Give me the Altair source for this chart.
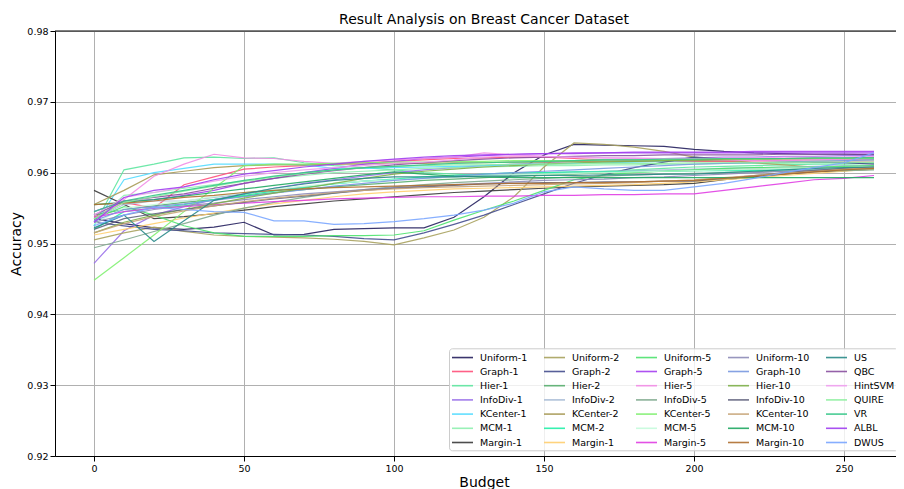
import altair as alt
import pandas as pd

budgets = [0, 10, 20, 30, 40, 50, 60, 70, 80, 90, 100, 110, 120, 130,
           140, 150, 160, 170, 180, 190, 200, 210, 220, 230, 240, 250, 260]

# series in the order they were plotted (legend column-major order)
names = ["Uniform-1", "Graph-1", "Hier-1", "InfoDiv-1", "KCenter-1", "MCM-1", "Margin-1",
         "Uniform-2", "Graph-2", "Hier-2", "InfoDiv-2", "KCenter-2", "MCM-2", "Margin-2",
         "Uniform-5", "Graph-5", "Hier-5", "InfoDiv-5", "KCenter-5", "MCM-5", "Margin-5",
         "Uniform-10", "Graph-10", "Hier-10", "InfoDiv-10", "KCenter-10", "MCM-10", "Margin-10",
         "US", "QBC", "HintSVM", "QUIRE", "VR", "ALBL", "DWUS"]

colors = ["#25205e", "#ff4f7b", "#5ee6a0", "#9a70ea", "#52dcff", "#8ff0b0", "#3a3a3a",
          "#a8a25e", "#454e8e", "#58ae6e", "#a8bcd6", "#a89a55", "#22f0a8", "#ffcf70",
          "#4de36e", "#a63ff0", "#f28de6", "#7faa8e", "#80f070", "#c6fbdc", "#e03ee3",
          "#8d8bb8", "#7a98e0", "#7eb04a", "#62647e", "#c8a478", "#20a862", "#b07030",
          "#2a8a88", "#8a50a0", "#f0a0f0", "#8ff0a0", "#36c888", "#a03ff0", "#7aa6ff"]

chart_title = "Result Analysis on Breast Cancer Dataset"

uniform_1 = [0.9535, 0.9528, 0.9522, 0.9520, 0.9523, 0.9530, 0.9512, 0.9513, 0.9520, 0.9521, 0.9522, 0.9522, 0.9537, 0.9566, 0.9600, 0.9625, 0.9640, 0.9639, 0.9638, 0.9637, 0.9633, 0.9630, 0.9628, 0.9627, 0.9626, 0.9626, 0.9625]
graph_1 = [0.9537, 0.9558, 0.9550, 0.9583, 0.9594, 0.9605, 0.9608, 0.9610, 0.9612, 0.9614, 0.9616, 0.9618, 0.9620, 0.9621, 0.9622, 0.9622, 0.9620, 0.9618, 0.9617, 0.9616, 0.9616, 0.9616, 0.9615, 0.9615, 0.9615, 0.9615, 0.9615]
hier_1 = [0.9525, 0.9604, 0.9612, 0.9621, 0.9622, 0.9620, 0.9621, 0.9614, 0.9610, 0.9607, 0.9604, 0.9600, 0.9598, 0.9596, 0.9597, 0.9599, 0.9600, 0.9602, 0.9604, 0.9606, 0.9608, 0.9609, 0.9610, 0.9611, 0.9612, 0.9612, 0.9613]
infodiv_1 = [0.9472, 0.9518, 0.9540, 0.9552, 0.9562, 0.9570, 0.9578, 0.9585, 0.9590, 0.9595, 0.9600, 0.9604, 0.9607, 0.9610, 0.9612, 0.9614, 0.9616, 0.9618, 0.9619, 0.9620, 0.9621, 0.9622, 0.9622, 0.9623, 0.9623, 0.9624, 0.9624]
kcenter_1 = [0.9525, 0.9590, 0.9600, 0.9606, 0.9612, 0.9612, 0.9612, 0.9611, 0.9606, 0.9606, 0.9607, 0.9608, 0.9609, 0.9610, 0.9611, 0.9612, 0.9613, 0.9614, 0.9615, 0.9616, 0.9617, 0.9618, 0.9619, 0.9620, 0.9620, 0.9621, 0.9622]
mcm_1 = [0.9530, 0.9568, 0.9572, 0.9578, 0.9583, 0.9588, 0.9592, 0.9596, 0.9600, 0.9602, 0.9604, 0.9606, 0.9607, 0.9608, 0.9609, 0.9610, 0.9610, 0.9611, 0.9611, 0.9612, 0.9612, 0.9613, 0.9613, 0.9613, 0.9614, 0.9614, 0.9614]
margin_1 = [0.9575, 0.9555, 0.9535, 0.9538, 0.9542, 0.9547, 0.9552, 0.9556, 0.9560, 0.9563, 0.9566, 0.9569, 0.9572, 0.9574, 0.9576, 0.9578, 0.9580, 0.9581, 0.9582, 0.9583, 0.9585, 0.9590, 0.9594, 0.9598, 0.9601, 0.9603, 0.9605]
uniform_2 = [0.9505, 0.9515, 0.9523, 0.9517, 0.9512, 0.9510, 0.9509, 0.9508, 0.9506, 0.9503, 0.9498, 0.9508, 0.9519, 0.9537, 0.9566, 0.9608, 0.9642, 0.9640, 0.9636, 0.9630, 0.9622, 0.9618, 0.9614, 0.9611, 0.9608, 0.9606, 0.9605]
graph_2 = [0.9530, 0.9525, 0.9520, 0.9518, 0.9515, 0.9514, 0.9513, 0.9512, 0.9510, 0.9507, 0.9505, 0.9515, 0.9527, 0.9540, 0.9555, 0.9570, 0.9585, 0.9597, 0.9607, 0.9615, 0.9622, 0.9620, 0.9618, 0.9617, 0.9615, 0.9614, 0.9612]
hier_2 = [0.9540, 0.9548, 0.9553, 0.9558, 0.9562, 0.9567, 0.9572, 0.9576, 0.9580, 0.9583, 0.9586, 0.9589, 0.9591, 0.9593, 0.9595, 0.9597, 0.9598, 0.9600, 0.9601, 0.9602, 0.9603, 0.9604, 0.9605, 0.9606, 0.9606, 0.9607, 0.9607]
infodiv_2 = [0.9535, 0.9555, 0.9560, 0.9560, 0.9565, 0.9570, 0.9575, 0.9580, 0.9585, 0.9588, 0.9590, 0.9592, 0.9594, 0.9596, 0.9598, 0.9600, 0.9601, 0.9602, 0.9603, 0.9604, 0.9605, 0.9606, 0.9607, 0.9608, 0.9609, 0.9610, 0.9610]
kcenter_2 = [0.9555, 0.9575, 0.9597, 0.9602, 0.9607, 0.9610, 0.9611, 0.9611, 0.9612, 0.9612, 0.9613, 0.9613, 0.9614, 0.9614, 0.9615, 0.9615, 0.9616, 0.9616, 0.9616, 0.9617, 0.9617, 0.9617, 0.9618, 0.9618, 0.9618, 0.9618, 0.9618]
mcm_2 = [0.9520, 0.9545, 0.9550, 0.9555, 0.9562, 0.9568, 0.9574, 0.9579, 0.9584, 0.9588, 0.9591, 0.9594, 0.9596, 0.9598, 0.9600, 0.9600, 0.9601, 0.9601, 0.9602, 0.9602, 0.9603, 0.9603, 0.9603, 0.9604, 0.9604, 0.9604, 0.9605]
margin_2 = [0.9512, 0.9520, 0.9528, 0.9536, 0.9543, 0.9550, 0.9556, 0.9561, 0.9566, 0.9570, 0.9573, 0.9575, 0.9577, 0.9578, 0.9579, 0.9580, 0.9581, 0.9582, 0.9583, 0.9585, 0.9587, 0.9590, 0.9593, 0.9596, 0.9599, 0.9602, 0.9605]
uniform_5 = [0.9535, 0.9552, 0.9540, 0.9525, 0.9515, 0.9510, 0.9510, 0.9510, 0.9511, 0.9511, 0.9512, 0.9518, 0.9533, 0.9547, 0.9560, 0.9575, 0.9590, 0.9597, 0.9600, 0.9602, 0.9604, 0.9606, 0.9607, 0.9608, 0.9608, 0.9609, 0.9610]
graph_5 = [0.9545, 0.9560, 0.9562, 0.9568, 0.9575, 0.9585, 0.9592, 0.9600, 0.9606, 0.9612, 0.9616, 0.9620, 0.9622, 0.9624, 0.9626, 0.9627, 0.9628, 0.9628, 0.9629, 0.9629, 0.9629, 0.9629, 0.9630, 0.9630, 0.9630, 0.9630, 0.9630]
hier_5 = [0.9530, 0.9562, 0.9595, 0.9612, 0.9626, 0.9621, 0.9620, 0.9616, 0.9613, 0.9616, 0.9618, 0.9620, 0.9622, 0.9628, 0.9625, 0.9623, 0.9622, 0.9621, 0.9620, 0.9620, 0.9619, 0.9618, 0.9617, 0.9617, 0.9618, 0.9619, 0.9620]
infodiv_5 = [0.9494, 0.9505, 0.9517, 0.9528, 0.9540, 0.9550, 0.9558, 0.9565, 0.9571, 0.9576, 0.9580, 0.9583, 0.9586, 0.9588, 0.9590, 0.9592, 0.9594, 0.9595, 0.9597, 0.9598, 0.9599, 0.9600, 0.9601, 0.9602, 0.9603, 0.9603, 0.9604]
kcenter_5 = [0.9448, 0.9480, 0.9512, 0.9545, 0.9578, 0.9610, 0.9612, 0.9612, 0.9613, 0.9614, 0.9615, 0.9615, 0.9616, 0.9616, 0.9617, 0.9617, 0.9617, 0.9618, 0.9618, 0.9618, 0.9619, 0.9619, 0.9619, 0.9620, 0.9620, 0.9620, 0.9620]
mcm_5 = [0.9528, 0.9550, 0.9555, 0.9560, 0.9566, 0.9572, 0.9577, 0.9581, 0.9585, 0.9588, 0.9590, 0.9592, 0.9594, 0.9596, 0.9597, 0.9598, 0.9599, 0.9600, 0.9601, 0.9602, 0.9603, 0.9604, 0.9605, 0.9606, 0.9606, 0.9607, 0.9607]
margin_5 = [0.9537, 0.9545, 0.9550, 0.9552, 0.9555, 0.9557, 0.9559, 0.9561, 0.9563, 0.9564, 0.9565, 0.9566, 0.9566, 0.9567, 0.9567, 0.9568, 0.9568, 0.9569, 0.9569, 0.9570, 0.9570, 0.9575, 0.9580, 0.9585, 0.9590, 0.9592, 0.9596]
uniform_10 = [0.9530, 0.9540, 0.9548, 0.9553, 0.9557, 0.9562, 0.9566, 0.9570, 0.9573, 0.9576, 0.9579, 0.9581, 0.9583, 0.9585, 0.9587, 0.9589, 0.9590, 0.9591, 0.9593, 0.9594, 0.9596, 0.9598, 0.9600, 0.9602, 0.9604, 0.9605, 0.9606]
graph_10 = [0.9532, 0.9548, 0.9552, 0.9556, 0.9561, 0.9566, 0.9571, 0.9576, 0.9581, 0.9585, 0.9589, 0.9592, 0.9595, 0.9598, 0.9600, 0.9602, 0.9604, 0.9606, 0.9608, 0.9610, 0.9612, 0.9613, 0.9614, 0.9615, 0.9616, 0.9617, 0.9618]
hier_10 = [0.9515, 0.9530, 0.9540, 0.9548, 0.9556, 0.9564, 0.9571, 0.9578, 0.9585, 0.9592, 0.9598, 0.9602, 0.9605, 0.9608, 0.9610, 0.9612, 0.9614, 0.9615, 0.9616, 0.9617, 0.9618, 0.9619, 0.9620, 0.9620, 0.9621, 0.9621, 0.9622]
infodiv_10 = [0.9520, 0.9535, 0.9542, 0.9548, 0.9553, 0.9558, 0.9563, 0.9567, 0.9571, 0.9575, 0.9578, 0.9580, 0.9582, 0.9584, 0.9585, 0.9586, 0.9586, 0.9587, 0.9587, 0.9588, 0.9588, 0.9592, 0.9596, 0.9600, 0.9603, 0.9606, 0.9608]
kcenter_10 = [0.9515, 0.9528, 0.9538, 0.9546, 0.9553, 0.9559, 0.9564, 0.9568, 0.9572, 0.9575, 0.9577, 0.9579, 0.9580, 0.9581, 0.9582, 0.9583, 0.9584, 0.9585, 0.9586, 0.9588, 0.9590, 0.9593, 0.9596, 0.9599, 0.9602, 0.9605, 0.9607]
mcm_10 = [0.9555, 0.9558, 0.9562, 0.9567, 0.9572, 0.9577, 0.9582, 0.9587, 0.9592, 0.9597, 0.9601, 0.9598, 0.9595, 0.9594, 0.9593, 0.9593, 0.9593, 0.9593, 0.9593, 0.9593, 0.9593, 0.9593, 0.9593, 0.9593, 0.9593, 0.9593, 0.9593]
margin_10 = [0.9555, 0.9557, 0.9560, 0.9565, 0.9568, 0.9572, 0.9575, 0.9577, 0.9579, 0.9580, 0.9581, 0.9582, 0.9583, 0.9584, 0.9585, 0.9585, 0.9586, 0.9586, 0.9587, 0.9588, 0.9589, 0.9592, 0.9595, 0.9598, 0.9601, 0.9604, 0.9606]
us = [0.9522, 0.9540, 0.9503, 0.9532, 0.9561, 0.9570, 0.9578, 0.9584, 0.9589, 0.9592, 0.9594, 0.9594, 0.9594, 0.9595, 0.9595, 0.9596, 0.9596, 0.9597, 0.9597, 0.9598, 0.9598, 0.9600, 0.9602, 0.9604, 0.9606, 0.9607, 0.9608]
qbc = [0.9540, 0.9560, 0.9565, 0.9570, 0.9578, 0.9585, 0.9592, 0.9598, 0.9603, 0.9607, 0.9611, 0.9614, 0.9617, 0.9619, 0.9621, 0.9622, 0.9623, 0.9624, 0.9624, 0.9625, 0.9625, 0.9625, 0.9625, 0.9626, 0.9626, 0.9626, 0.9626]
hintsvm = [0.9540, 0.9565, 0.9572, 0.9580, 0.9588, 0.9595, 0.9600, 0.9604, 0.9607, 0.9610, 0.9613, 0.9615, 0.9618, 0.9622, 0.9624, 0.9623, 0.9622, 0.9621, 0.9621, 0.9620, 0.9620, 0.9621, 0.9621, 0.9622, 0.9622, 0.9622, 0.9623]
quire = [0.9535, 0.9558, 0.9566, 0.9574, 0.9581, 0.9588, 0.9594, 0.9599, 0.9604, 0.9607, 0.9609, 0.9610, 0.9611, 0.9611, 0.9612, 0.9612, 0.9612, 0.9613, 0.9613, 0.9613, 0.9614, 0.9614, 0.9614, 0.9615, 0.9615, 0.9615, 0.9615]
vr = [0.9545, 0.9560, 0.9568, 0.9575, 0.9582, 0.9589, 0.9595, 0.9600, 0.9604, 0.9607, 0.9609, 0.9611, 0.9613, 0.9614, 0.9615, 0.9616, 0.9617, 0.9618, 0.9618, 0.9619, 0.9619, 0.9620, 0.9620, 0.9620, 0.9621, 0.9621, 0.9621]
albl = [0.9530, 0.9565, 0.9575, 0.9580, 0.9590, 0.9598, 0.9603, 0.9608, 0.9612, 0.9616, 0.9619, 0.9622, 0.9624, 0.9625, 0.9626, 0.9627, 0.9627, 0.9628, 0.9628, 0.9628, 0.9628, 0.9628, 0.9628, 0.9628, 0.9628, 0.9628, 0.9628]
dwus = [0.9525, 0.9540, 0.9551, 0.9548, 0.9545, 0.9544, 0.9532, 0.9532, 0.9527, 0.9528, 0.9531, 0.9535, 0.9540, 0.9547, 0.9557, 0.9573, 0.9580, 0.9577, 0.9575, 0.9575, 0.9580, 0.9585, 0.9592, 0.9600, 0.9607, 0.9614, 0.9628]

series = [uniform_1, graph_1, hier_1, infodiv_1, kcenter_1, mcm_1, margin_1,
          uniform_2, graph_2, hier_2, infodiv_2, kcenter_2, mcm_2, margin_2,
          uniform_5, graph_5, hier_5, infodiv_5, kcenter_5, mcm_5, margin_5,
          uniform_10, graph_10, hier_10, infodiv_10, kcenter_10, mcm_10, margin_10,
          us, qbc, hintsvm, quire, vr, albl, dwus]

rows = []
for order, (name, vals) in enumerate(zip(names, series)):
    for b, v in zip(budgets, vals):
        rows.append({"method": name, "order": order, "Budget": b, "Accuracy": v})
df = pd.DataFrame(rows)

W, H = 841, 425
FONT = "DejaVu Sans"

lines = alt.Chart(df).mark_line(strokeWidth=1.2, opacity=0.9, clip=True).encode(
    x=alt.X("Budget:Q",
            scale=alt.Scale(domain=[-13, 267.33], zero=False, nice=False),
            axis=alt.Axis(values=[0, 50, 100, 150, 200, 250], title="Budget",
                          titleX=429, titleY=26, titleBaseline="middle",
                          titleAlign="center")),
    y=alt.Y("Accuracy:Q",
            scale=alt.Scale(domain=[0.92, 0.98], zero=False, nice=False),
            axis=alt.Axis(values=[0.92, 0.93, 0.94, 0.95, 0.96, 0.97, 0.98],
                          format=".2f", title="Accuracy",
                          titleX=-39, titleY=212.5, titleAngle=270,
                          titleBaseline="middle", titleAlign="center")),
    color=alt.Color("method:N",
                    scale=alt.Scale(domain=names, range=colors),
                    legend=alt.Legend(
                        orient="none", legendX=394, legendY=317.3, columns=5,
                        symbolLimit=0,
                        title=None, symbolType="M-1.2,0H3", symbolSize=100,
                        symbolStrokeWidth=1.6, labelOffset=16,
                        labelFontSize=9.5, labelFont=FONT, labelColor="#000000",
                        rowPadding=3.2, columnPadding=12, padding=3,
                        fillColor="rgba(255,255,255,0.8)", strokeColor="#cccccc",
                        cornerRadius=3,
                        labelExpr="datum.label == 'Margin-2' ? 'Margin-1' : datum.label")),
    detail="method:N",
    order="order:Q",
)

title_text = alt.Chart(pd.DataFrame({"t": [chart_title]})).mark_text(
    font=FONT, fontSize=14, color="#000000", align="center",
    baseline="alphabetic").encode(
    text="t:N", x=alt.value(429), y=alt.value(-7))

top_border = alt.Chart(pd.DataFrame({"v": [0]})).mark_rule(
    color="black", strokeWidth=1).encode(
    x=alt.value(0), x2=alt.value(W), y=alt.value(0))

chart = alt.layer(lines, top_border, title_text).properties(
    width=W, height=H,
    autosize=alt.AutoSizeParams(type="none"),
    padding={"left": 47, "top": 23, "right": 0, "bottom": 33},
).configure_view(stroke=None).configure_axis(
    grid=True, gridColor="#b0b0b0", gridWidth=1,
    domainColor="#000000", domainWidth=1,
    tickColor="#000000", tickSize=5, tickWidth=1,
    labelFont=FONT, labelFontSize=9.5, labelColor="#000000", labelPadding=2,
    labelFlush=False,
    titleFont=FONT, titleFontSize=14, titleFontWeight="normal", titleColor="#000000",
)

chart.save("out.html", embed_options={"renderer": "svg", "actions": False})
